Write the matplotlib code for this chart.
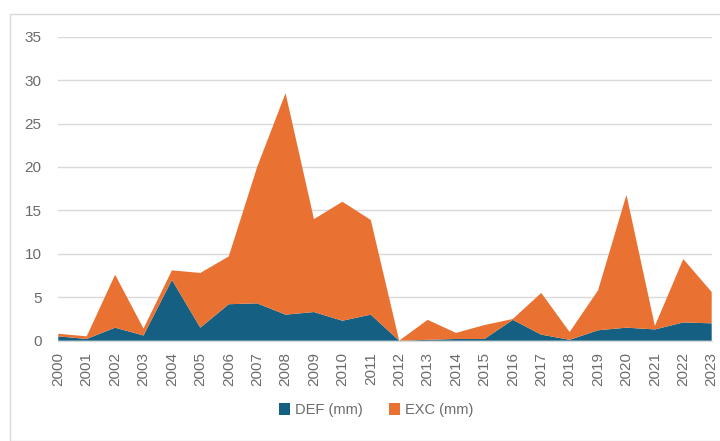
import matplotlib
matplotlib.use("Agg")
import matplotlib.pyplot as plt
import numpy as np

years = [str(y) for y in range(2000, 2024)]
def_mm = [0.5, 0.2, 1.5, 0.6, 7.0, 1.5, 4.2, 4.3, 3.0, 3.3, 2.3, 3.0,
          0.0, 0.1, 0.2, 0.2, 2.4, 0.7, 0.1, 1.2, 1.5, 1.3, 2.1, 2.0]
total_mm = [0.8, 0.5, 7.6, 1.4, 8.1, 7.8, 9.7, 20.0, 28.5, 14.0, 16.0, 13.9,
            0.0, 2.4, 0.9, 1.8, 2.5, 5.5, 1.0, 5.8, 16.8, 1.7, 9.4, 5.6]
exc_mm = [round(t - d, 2) for t, d in zip(total_mm, def_mm)]
yticks = [0, 5, 10, 15, 20, 25, 30, 35]

plt.rcParams['font.family'] = ['Liberation Sans', 'DejaVu Sans']

fig = plt.figure(figsize=(7.2, 4.41), dpi=100)
fig.patch.set_facecolor('white')
# chart area border
fig.add_artist(plt.Rectangle((10/720, 0), 1, 1 - 14/441, transform=fig.transFigure,
                             fill=False, edgecolor='#d9d9d9', linewidth=1))

ax = fig.add_axes([58.3/720, 1 - 340.7/441, (711.7-58.3)/720, (340.7-36.7)/441])
x = np.arange(len(years))
ax.stackplot(x, def_mm, exc_mm, colors=['#156082', '#E97132'],
             labels=['DEF (mm)', 'EXC (mm)'])
ax.set_xlim(0, len(years) - 1)
ax.set_ylim(0, 35)
ax.set_yticks(yticks)
ax.set_xticks(x)
ax.set_xticklabels(years, rotation=90)
ax.grid(axis='y', color='#d9d9d9', linewidth=1)
ax.set_axisbelow(True)
for s in ['top', 'right', 'left']:
    ax.spines[s].set_visible(False)
ax.spines['bottom'].set_color('#d9d9d9')
ax.tick_params(axis='both', colors='#6b6b6b', labelsize=11, length=0)
ax.tick_params(axis='y', pad=12)
ax.tick_params(axis='x', pad=8)

handles, labels = ax.get_legend_handles_labels()
fig.legend(handles, labels, loc='center', bbox_to_anchor=(376/720, 1 - 410/441),
           ncol=2, frameon=False, fontsize=10.5, labelcolor='#6b6b6b',
           handlelength=0.8, handleheight=0.8, handletextpad=0.3, columnspacing=1.8)

fig.savefig('out.png', dpi=100)
